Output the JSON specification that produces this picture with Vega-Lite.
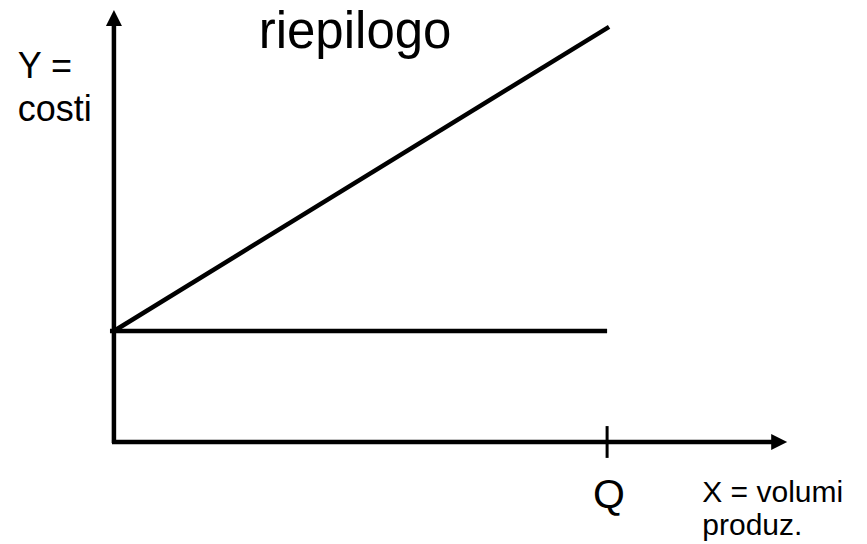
{
  "$schema": "https://vega.github.io/schema/vega-lite/v6.json",
  "width": 867,
  "height": 544,
  "padding": 0,
  "autosize": {"type": "none"},
  "background": "white",
  "config": {"view": {"stroke": null}},
  "datasets": {
    "segments": [
      {"kind": "axis", "name": "asse X", "x1": -0.04, "y1": 0, "x2": 13.49, "y2": 0},
      {"kind": "axis", "name": "asse Y", "x1": 0, "y1": -0.27, "x2": 0, "y2": 114.6},
      {"kind": "cost", "name": "costi fissi", "x1": -0.08, "y1": 30, "x2": 10, "y2": 30},
      {"kind": "cost", "name": "costi totali", "x1": 0, "y1": 30, "x2": 10.04, "y2": 112.2},
      {"kind": "tick", "name": "Q", "x1": 10, "y1": 4.3, "x2": 10, "y2": -4.3}
    ],
    "arrows": [
      {"dir": "up", "x": 0, "y": 114.6},
      {"dir": "right", "x": 13.49, "y": 0}
    ],
    "labels": [
      {"group": "title", "text": "riepilogo", "x": 4.89, "y": 106.5},
      {"group": "ylab", "text": "Y =", "x": -1.95, "y": 98.4},
      {"group": "ylab", "text": "costi", "x": -1.95, "y": 86.7},
      {"group": "q", "text": "Q", "x": 10.04, "y": -17.8},
      {"group": "xlab", "text": "X = volumi", "x": 11.93, "y": -16.2},
      {"group": "xlab", "text": "produz.", "x": 11.93, "y": -25.2}
    ]
  },
  "resolve": {"scale": {"x": "shared", "y": "shared"}},
  "layer": [
    {
      "data": {"name": "segments"},
      "transform": [{"filter": "datum.kind === 'axis' || datum.kind === 'cost'"}],
      "mark": {"type": "rule", "color": "black", "strokeWidth": 4.5, "clip": false},
      "encoding": {
        "x": {"field": "x1", "type": "quantitative", "scale": {"domain": [-2.31, 15.27], "nice": false, "zero": false}, "axis": null},
        "y": {"field": "y1", "type": "quantitative", "scale": {"domain": [-27.57, 119.46], "nice": false, "zero": false}, "axis": null},
        "x2": {"field": "x2"},
        "y2": {"field": "y2"}
      }
    },
    {
      "data": {"name": "segments"},
      "transform": [{"filter": "datum.kind === 'tick'"}],
      "mark": {"type": "rule", "color": "black", "strokeWidth": 3},
      "encoding": {
        "x": {"field": "x1", "type": "quantitative"},
        "y": {"field": "y1", "type": "quantitative"},
        "x2": {"field": "x2"},
        "y2": {"field": "y2"}
      }
    },
    {
      "data": {"name": "arrows"},
      "transform": [{"filter": "datum.dir === 'up'"}],
      "mark": {"type": "point", "shape": "M0,-1L-1,1L1,1Z", "filled": true, "color": "black", "opacity": 1, "size": 256},
      "encoding": {
        "x": {"field": "x", "type": "quantitative"},
        "y": {"field": "y", "type": "quantitative"}
      }
    },
    {
      "data": {"name": "arrows"},
      "transform": [{"filter": "datum.dir === 'right'"}],
      "mark": {"type": "point", "shape": "M1,0L-1,-1L-1,1Z", "filled": true, "color": "black", "opacity": 1, "size": 256},
      "encoding": {
        "x": {"field": "x", "type": "quantitative"},
        "y": {"field": "y", "type": "quantitative"}
      }
    },
    {
      "data": {"name": "labels"},
      "transform": [{"filter": "datum.group === 'title'"}],
      "mark": {"type": "text", "font": "Liberation Sans", "fontSize": 51, "align": "center", "baseline": "alphabetic", "color": "black"},
      "encoding": {
        "x": {"field": "x", "type": "quantitative"},
        "y": {"field": "y", "type": "quantitative"},
        "text": {"field": "text"}
      }
    },
    {
      "data": {"name": "labels"},
      "transform": [{"filter": "datum.group === 'ylab'"}],
      "mark": {"type": "text", "font": "Liberation Sans", "fontSize": 36, "align": "left", "baseline": "alphabetic", "color": "black"},
      "encoding": {
        "x": {"field": "x", "type": "quantitative"},
        "y": {"field": "y", "type": "quantitative"},
        "text": {"field": "text"}
      }
    },
    {
      "data": {"name": "labels"},
      "transform": [{"filter": "datum.group === 'q'"}],
      "mark": {"type": "text", "font": "Liberation Sans", "fontSize": 41, "align": "center", "baseline": "alphabetic", "color": "black"},
      "encoding": {
        "x": {"field": "x", "type": "quantitative"},
        "y": {"field": "y", "type": "quantitative"},
        "text": {"field": "text"}
      }
    },
    {
      "data": {"name": "labels"},
      "transform": [{"filter": "datum.group === 'xlab'"}],
      "mark": {"type": "text", "font": "Liberation Sans", "fontSize": 30, "align": "left", "baseline": "alphabetic", "color": "black"},
      "encoding": {
        "x": {"field": "x", "type": "quantitative"},
        "y": {"field": "y", "type": "quantitative"},
        "text": {"field": "text"}
      }
    }
  ]
}
